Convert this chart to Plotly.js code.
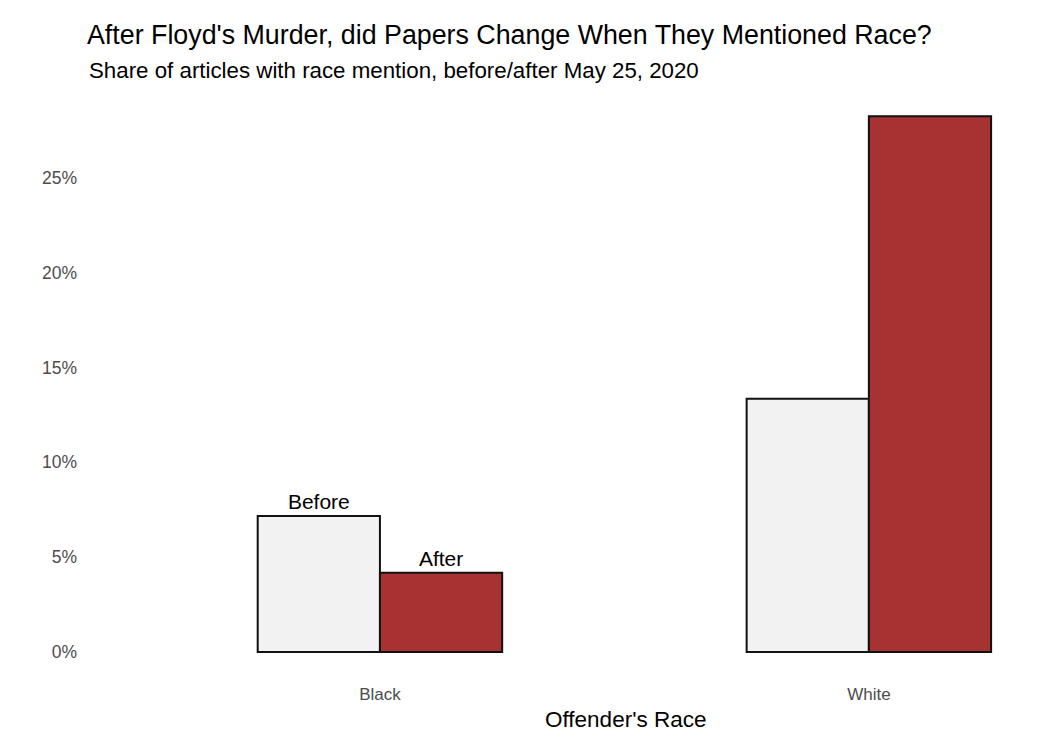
<!DOCTYPE html>
<html>
<head>
<meta charset="utf-8">
<script src="https://cdn.plot.ly/plotly-3.0.1.min.js"></script>
<style>
  html, body { margin: 0; padding: 0; background: #fff; }
  #chart { width: 1050px; height: 752px; }
</style>
</head>
<body>
<div id="chart"></div>
<script>
var races = ['Black', 'White'];
var beforeShare = [7.17, 13.35];
var afterShare = [4.17, 28.25];
var beforeLabels = ['Before', ''];
var afterLabels = ['After', ''];
var yTicks = [0, 5, 10, 15, 20, 25];

function drawGraph(){
    var font = 'Liberation Sans, Arial, sans-serif';

    var trace1 = {
        x: races,
        y: beforeShare,
        name: 'Before',
        type: 'bar',
        text: beforeLabels,
        textposition: 'outside',
        cliponaxis: false,
        textfont: {family: font, size: 21, color: '#000'},
        marker: {color: '#f2f2f2', line: {color: '#111', width: 2}},
        hoverinfo: 'x+y'
    };

    var trace2 = {
        x: races,
        y: afterShare,
        name: 'After',
        type: 'bar',
        text: afterLabels,
        textposition: 'outside',
        cliponaxis: false,
        textfont: {family: font, size: 21, color: '#000'},
        marker: {color: '#a63232', line: {color: '#111', width: 2}},
        hoverinfo: 'x+y'
    };

    // plot area runs 90..1040 px across, 100..680 px down
    var layout = {
        width: 1050,
        height: 752,
        margin: {l: 90, r: 10, t: 100, b: 72},
        paper_bgcolor: '#fff',
        plot_bgcolor: '#fff',
        font: {family: font},
        showlegend: false,
        barmode: 'group',
        bargap: 0.5,
        bargroupgap: 0,
        title: {
            text: "After Floyd's Murder, did Papers Change When They Mentioned Race?",
            font: {family: font, size: 26.8, color: '#000'},
            x: 87 / 1050,
            xanchor: 'left',
            xref: 'container',
            y: 1 - 35 / 752,
            yanchor: 'middle',
            yref: 'container'
        },
        annotations: [{
            text: 'Share of articles with race mention, before/after May 25, 2020',
            xref: 'paper', yref: 'paper',
            x: (87 - 90) / 950, y: 1 + (100 - 71) / 580,
            xanchor: 'left', yanchor: 'middle',
            showarrow: false,
            font: {family: font, size: 22.3, color: '#000'}
        }, {
            text: "Offender's Race",
            xref: 'paper', yref: 'paper',
            x: (625 - 90) / 950, y: -(719 - 680) / 580,
            xanchor: 'center', yanchor: 'middle',
            showarrow: false,
            font: {family: font, size: 22.5, color: '#000'}
        }],
        xaxis: {
            type: 'category',
            range: [-0.593, 1.35],
            showgrid: false,
            zeroline: false,
            showline: false,
            ticks: '',
            tickfont: {family: font, size: 17, color: '#4d4d4d'},
            ticklabelstandoff: 2
        },
        yaxis: {
            range: [-1.48, 29.11],
            tickmode: 'array',
            tickvals: yTicks,
            ticktext: yTicks.map(function(v){ return v + '%'; }),
            showgrid: false,
            zeroline: false,
            showline: false,
            ticks: '',
            ticklabelstandoff: 12,
            tickfont: {family: font, size: 17.5, color: '#4d4d4d'}
        }
    };

    Plotly.newPlot('chart', [trace1, trace2], layout, {displayModeBar: false, staticPlot: true});
}

drawGraph();
</script>
</body>
</html>
